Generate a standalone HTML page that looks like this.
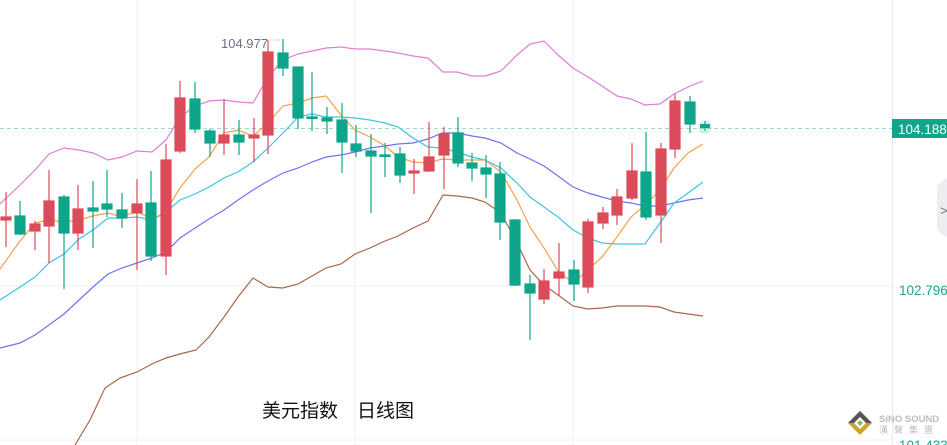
<!DOCTYPE html>
<html><head><meta charset="utf-8"><style>
html,body{margin:0;padding:0;background:#fff;}
svg{display:block;}
</style></head><body>
<svg width="947" height="445" viewBox="0 0 947 445" xmlns="http://www.w3.org/2000/svg" font-family="Liberation Sans, Noto Sans CJK SC, sans-serif">
<rect width="947" height="445" fill="#fff"/>
<g stroke="#eef0f3" stroke-width="1">
<line x1="137" y1="0" x2="137" y2="445"/>
<line x1="355" y1="0" x2="355" y2="445"/>
<line x1="573" y1="0" x2="573" y2="445"/>
<line x1="0" y1="132" x2="892" y2="132"/>
<line x1="0" y1="286" x2="892" y2="286"/>
<line x1="0" y1="440" x2="892" y2="440"/>
</g>
<line x1="892.5" y1="0" x2="892.5" y2="445" stroke="#e6e8ee"/>
<line x1="0" y1="128.5" x2="892" y2="128.5" stroke="#9ad9cb" stroke-dasharray="4,3"/>
<g fill="none" stroke-width="1.2">
<polyline stroke="#e07fd0" points="0,204 20,185 35,170 49,154 64,148 79,150 93,153 108,160 122,157 137,151 152,152 166,140 180,117 195,106 209,101 224,100 238,102 253,103 268,77 283,60 298,54 312,51 326,48 341,47 355,49 370,49 385,51 398,53 413,56 428,58 443,72 457,72 472,76 485,76 501,71 517,55 530,44 544,41 558,55 573,68 588,77 602,86 617,96 631,99 645,105 660,104 674,94 688,87 703,81"/>
<polyline stroke="#a8684a" points="75,445 90,420 105,388 120,378 137,372 152,364 166,358 180,354 196,350 209,337 224,317 238,297 253,278 268,287 283,288 298,284 312,276 326,268 341,264 355,254 370,248 385,241 398,236 413,228 428,221 443,195 457,196 472,198 485,202 501,213 517,243 530,270 544,285 558,295 573,306 588,309 602,308 617,306 631,306 645,306 660,307 674,312 688,314 703,316"/>
<polyline stroke="#6c74f0" points="0,348 20,343 35,335 49,325 64,314 79,300 93,287 108,274 122,268 137,263 152,258 166,252 180,238 195,228 209,219 224,210 238,200 253,190 268,181 283,173 298,168 312,162 326,157 341,155 355,152 370,148 385,146 398,144 413,143 428,139 442,133 457,133 472,136 485,138 501,143 517,153 530,159 544,166 558,176 573,187 588,193 602,197 617,201 631,203 645,206 660,206 674,203 688,200 703,198"/>
<polyline stroke="#3cc6e0" points="0,300 20,287 35,277 49,263 64,254 79,239 93,230 108,218 122,218 137,217 152,220 166,212 180,200 195,194 209,187 224,178 238,172 253,162 268,148 283,133 298,117 312,114 326,117 341,117 355,118 370,120 385,123 398,127 413,138 428,147 442,148 457,152 472,157 485,160 501,168 517,183 530,197 544,207 558,217 573,230 588,238 602,243 617,244 645,244 660,223 674,203 688,193 703,182"/>
<polyline stroke="#f7a04e" points="0,269 20,241 35,223 49,220 64,222 79,220 93,216 108,213 122,217 137,211 152,220 166,211 180,188 195,169 209,157 224,133 238,130 253,136 268,123 283,106 298,103 312,98 326,96 341,115 355,130 370,137 385,146 398,157 413,162 428,163 442,159 457,160 485,160 501,172 517,200 530,227 544,248 558,271 573,283 588,270 602,257 617,237 631,217 645,205 660,190 674,168 688,153 703,144"/>
</g>
<g stroke-width="1.2">
<g stroke="#dc4b5a" fill="#dc4b5a">
<line x1="6" y1="192" x2="6" y2="247"/><rect x="1" y="217" width="10" height="3"/>
<line x1="35" y1="221" x2="35" y2="250"/><rect x="30" y="224" width="10" height="7"/>
<line x1="49" y1="170" x2="49" y2="263"/><rect x="44" y="201" width="10" height="25"/>
<line x1="78" y1="185" x2="78" y2="250"/><rect x="73" y="209" width="10" height="24"/>
<line x1="137" y1="179" x2="137" y2="270"/><rect x="132" y="204" width="10" height="9"/>
<line x1="166" y1="144" x2="166" y2="275"/><rect x="161" y="160" width="10" height="96"/>
<line x1="180" y1="81" x2="180" y2="153"/><rect x="175" y="98" width="10" height="53"/>
<line x1="224" y1="99" x2="224" y2="155"/><rect x="219" y="135" width="10" height="8"/>
<line x1="254" y1="118" x2="254" y2="162"/><rect x="249" y="135" width="10" height="3"/>
<line x1="268" y1="40" x2="268" y2="154"/><rect x="263" y="52" width="10" height="83"/>
<line x1="414" y1="159" x2="414" y2="194"/><rect x="409" y="171" width="10" height="2"/>
<line x1="429" y1="122" x2="429" y2="172"/><rect x="424" y="157" width="10" height="14"/>
<line x1="444" y1="127" x2="444" y2="189"/><rect x="439" y="134" width="10" height="21"/>
<line x1="544" y1="269" x2="544" y2="304"/><rect x="539" y="281" width="10" height="18"/>
<line x1="559" y1="243" x2="559" y2="296"/><rect x="554" y="272" width="10" height="6"/>
<line x1="588" y1="219" x2="588" y2="293"/><rect x="583" y="222" width="10" height="65"/>
<line x1="603" y1="207" x2="603" y2="229"/><rect x="598" y="213" width="10" height="10"/>
<line x1="617" y1="189" x2="617" y2="225"/><rect x="612" y="197" width="10" height="18"/>
<line x1="632" y1="143" x2="632" y2="200"/><rect x="627" y="171" width="10" height="27"/>
<line x1="661" y1="143" x2="661" y2="243"/><rect x="656" y="149" width="10" height="66"/>
<line x1="675" y1="94" x2="675" y2="158"/><rect x="670" y="101" width="10" height="48"/>
</g>
<g stroke="#0ea58a" fill="#0ea58a">
<line x1="20" y1="201" x2="20" y2="235"/><rect x="15" y="216" width="10" height="18"/>
<line x1="64" y1="195" x2="64" y2="289"/><rect x="59" y="197" width="10" height="36"/>
<line x1="93" y1="181" x2="93" y2="248"/><rect x="88" y="208" width="10" height="3"/>
<line x1="107" y1="170" x2="107" y2="217"/><rect x="102" y="204" width="10" height="5"/>
<line x1="122" y1="193" x2="122" y2="228"/><rect x="117" y="210" width="10" height="8"/>
<line x1="151" y1="171" x2="151" y2="261"/><rect x="146" y="203" width="10" height="53"/>
<line x1="195" y1="82" x2="195" y2="133"/><rect x="190" y="99" width="10" height="30"/>
<line x1="210" y1="129" x2="210" y2="157"/><rect x="205" y="131" width="10" height="12"/>
<line x1="239" y1="120" x2="239" y2="155"/><rect x="234" y="135" width="10" height="7"/>
<line x1="283" y1="39" x2="283" y2="76"/><rect x="278" y="53" width="10" height="15"/>
<line x1="298" y1="67" x2="298" y2="129"/><rect x="293" y="67" width="10" height="51"/>
<line x1="312" y1="72" x2="312" y2="131"/><rect x="307" y="117" width="10" height="1.5"/>
<line x1="327" y1="107" x2="327" y2="134"/><rect x="322" y="118" width="10" height="3"/>
<line x1="342" y1="103" x2="342" y2="173"/><rect x="337" y="120" width="10" height="22"/>
<line x1="356" y1="125" x2="356" y2="157"/><rect x="351" y="144" width="10" height="7"/>
<line x1="371" y1="134" x2="371" y2="213"/><rect x="366" y="151" width="10" height="5"/>
<line x1="385" y1="143" x2="385" y2="177"/><rect x="380" y="155" width="10" height="1.5"/>
<line x1="400" y1="147" x2="400" y2="183"/><rect x="395" y="154" width="10" height="21"/>
<line x1="458" y1="117" x2="458" y2="167"/><rect x="453" y="133" width="10" height="30"/>
<line x1="472" y1="153" x2="472" y2="181"/><rect x="467" y="163" width="10" height="5"/>
<line x1="486" y1="155" x2="486" y2="198"/><rect x="481" y="168" width="10" height="6"/>
<line x1="500" y1="162" x2="500" y2="240"/><rect x="495" y="174" width="10" height="48"/>
<line x1="515" y1="219" x2="515" y2="286"/><rect x="510" y="220" width="10" height="65"/>
<line x1="530" y1="275" x2="530" y2="340"/><rect x="525" y="284" width="10" height="9"/>
<line x1="574" y1="260" x2="574" y2="301"/><rect x="569" y="270" width="10" height="14"/>
<line x1="646" y1="132" x2="646" y2="220"/><rect x="641" y="172" width="10" height="45"/>
<line x1="690" y1="96" x2="690" y2="133"/><rect x="685" y="102" width="10" height="22"/>
</g>
</g>
<circle cx="705" cy="127" r="7" fill="#0ea58a" opacity="0.15"/>
<rect x="700" y="124" width="10" height="4" fill="#0ea58a"/>
<line x1="705" y1="121" x2="705" y2="131" stroke="#0ea58a" stroke-width="1.2"/>
<text x="221" y="48" font-size="13" fill="#6b7280">104.977</text>
<line x1="270" y1="40" x2="283" y2="40" stroke="#9ca3af" stroke-dasharray="1,2"/>
<rect x="892" y="119" width="55" height="19" fill="#0ea58a"/>
<text x="898" y="134" font-size="13.5" fill="#fff">104.188</text>
<text x="899" y="295" font-size="13.5" fill="#17a589">102.796</text>
<text x="899" y="450" font-size="13.5" fill="#17a589">101.433</text>
<path d="M947,178 L941,182 L937,186 L937,229 L941,234 L947,237 Z" fill="#eceef1"/>
<text x="940" y="215" font-size="13" fill="#6b7280">&gt;</text>
<text x="262" y="417" font-size="19" fill="#111">美元指数</text>
<text x="357" y="417" font-size="19" fill="#111">日线图</text>
<g transform="translate(860,423)">
<path d="M0,-12 L12,0 L0,12 L-12,0 Z" fill="#c9a829"/>
<path d="M0,-12 L12,0 L0,0 L-12,0 Z" fill="#555"/>
<path d="M0,-6 L6,0 L0,6 L-6,0 Z" fill="#fff"/>
<path d="M0,-3 L3,0 L0,3 L-3,0 Z" fill="#8bc34a"/>
</g>
<text x="879" y="422" font-size="9.5" font-weight="bold" fill="#bdbdbd">SiNO SOUND</text>
<text x="879" y="433" font-size="9" fill="#bdbdbd" letter-spacing="6">漢聲集團</text>
</svg>
</body></html>
